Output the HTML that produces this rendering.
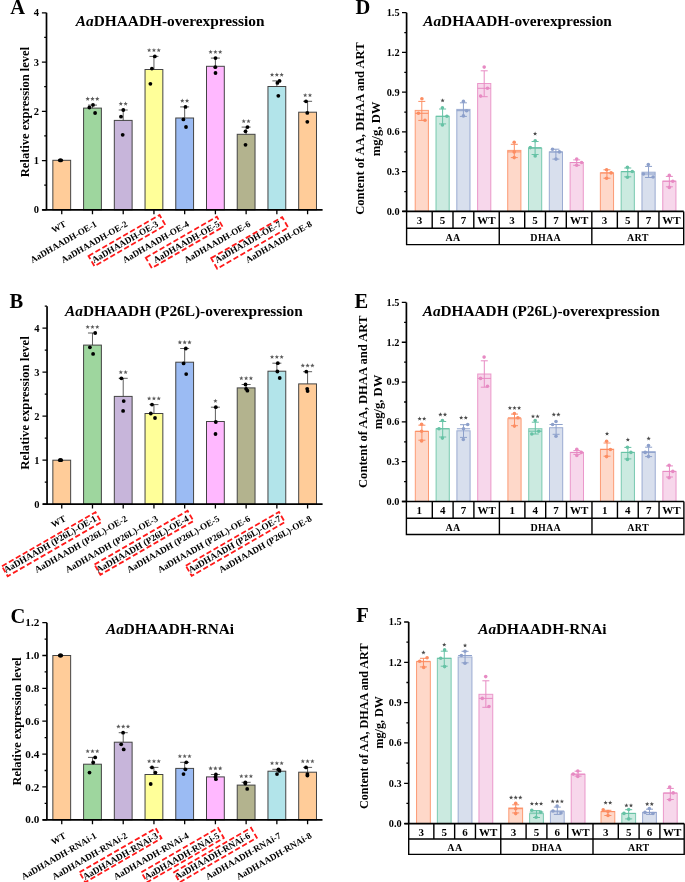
<!DOCTYPE html>
<html><head><meta charset="utf-8"><style>
html,body{margin:0;padding:0;background:#fff;}
svg{display:block;will-change:transform;}
svg text{font-family:"Liberation Serif", serif;}
</style></head><body>
<svg width="685" height="882" viewBox="0 0 685 882">
<rect width="685" height="882" fill="#fff"/>
<rect x="52.85" y="160.30" width="17.8" height="49.50" fill="#FFCC99" stroke="#444" stroke-width="1"/>
<rect x="83.58" y="108.10" width="17.8" height="101.70" fill="#9ED69E" stroke="#444" stroke-width="1"/>
<rect x="114.31" y="120.40" width="17.8" height="89.40" fill="#C7B5DA" stroke="#444" stroke-width="1"/>
<rect x="145.04" y="69.50" width="17.8" height="140.30" fill="#FFFF99" stroke="#444" stroke-width="1"/>
<rect x="175.77" y="118.00" width="17.8" height="91.80" fill="#9BBBF3" stroke="#444" stroke-width="1"/>
<rect x="206.50" y="66.30" width="17.8" height="143.50" fill="#FFB8FF" stroke="#444" stroke-width="1"/>
<rect x="237.23" y="134.30" width="17.8" height="75.50" fill="#B3B38E" stroke="#444" stroke-width="1"/>
<rect x="267.96" y="86.50" width="17.8" height="123.30" fill="#B2E4EA" stroke="#444" stroke-width="1"/>
<rect x="298.69" y="112.20" width="17.8" height="97.60" fill="#FFCC99" stroke="#444" stroke-width="1"/>
<circle cx="59.8" cy="160.3" r="1.9" fill="#000"/>
<circle cx="60.5" cy="160.3" r="1.9" fill="#000"/>
<circle cx="61.2" cy="160.3" r="1.9" fill="#000"/>
<path d="M92.48,108.10V105.10M87.98,105.10H96.98" stroke="#333" stroke-width="0.8" fill="none"/>
<circle cx="89.4" cy="107.5" r="1.9" fill="#000"/>
<circle cx="93" cy="104.9" r="1.9" fill="#000"/>
<circle cx="95.1" cy="113" r="1.9" fill="#000"/>
<path d="M87.68,96.60 L88.27,98.09 L89.87,98.19 L88.63,99.21 L89.03,100.76 L87.68,99.90 L86.33,100.76 L86.73,99.21 L85.49,98.19 L87.09,98.09ZM92.48,96.60 L93.07,98.09 L94.67,98.19 L93.43,99.21 L93.83,100.76 L92.48,99.90 L91.13,100.76 L91.53,99.21 L90.29,98.19 L91.89,98.09ZM97.28,96.60 L97.87,98.09 L99.47,98.19 L98.23,99.21 L98.63,100.76 L97.28,99.90 L95.93,100.76 L96.33,99.21 L95.09,98.19 L96.69,98.09Z" fill="#5a5a5a"/>
<path d="M123.21,120.40V110.00M118.71,110.00H127.71" stroke="#333" stroke-width="0.8" fill="none"/>
<circle cx="123.3" cy="110" r="1.9" fill="#000"/>
<circle cx="121" cy="116.7" r="1.9" fill="#000"/>
<circle cx="122.7" cy="134.8" r="1.9" fill="#000"/>
<path d="M120.81,101.50 L121.40,102.99 L123.00,103.09 L121.76,104.11 L122.16,105.66 L120.81,104.80 L119.46,105.66 L119.86,104.11 L118.62,103.09 L120.22,102.99ZM125.61,101.50 L126.20,102.99 L127.80,103.09 L126.56,104.11 L126.96,105.66 L125.61,104.80 L124.26,105.66 L124.66,104.11 L123.42,103.09 L125.02,102.99Z" fill="#5a5a5a"/>
<path d="M153.94,69.50V56.40M149.44,56.40H158.44" stroke="#333" stroke-width="0.8" fill="none"/>
<circle cx="154.8" cy="56.4" r="1.9" fill="#000"/>
<circle cx="151.9" cy="68.6" r="1.9" fill="#000"/>
<circle cx="150.4" cy="83.8" r="1.9" fill="#000"/>
<path d="M149.14,47.90 L149.73,49.39 L151.33,49.49 L150.09,50.51 L150.49,52.06 L149.14,51.20 L147.79,52.06 L148.19,50.51 L146.95,49.49 L148.55,49.39ZM153.94,47.90 L154.53,49.39 L156.13,49.49 L154.89,50.51 L155.29,52.06 L153.94,51.20 L152.59,52.06 L152.99,50.51 L151.75,49.49 L153.35,49.39ZM158.74,47.90 L159.33,49.39 L160.93,49.49 L159.69,50.51 L160.09,52.06 L158.74,51.20 L157.39,52.06 L157.79,50.51 L156.55,49.49 L158.15,49.39Z" fill="#5a5a5a"/>
<path d="M184.67,118.00V106.90M180.17,106.90H189.17" stroke="#333" stroke-width="0.8" fill="none"/>
<circle cx="185.5" cy="106.9" r="1.9" fill="#000"/>
<circle cx="183.4" cy="119.4" r="1.9" fill="#000"/>
<circle cx="186" cy="127" r="1.9" fill="#000"/>
<path d="M182.27,98.50 L182.86,99.99 L184.46,100.09 L183.22,101.11 L183.62,102.66 L182.27,101.80 L180.92,102.66 L181.32,101.11 L180.08,100.09 L181.68,99.99ZM187.07,98.50 L187.66,99.99 L189.26,100.09 L188.02,101.11 L188.42,102.66 L187.07,101.80 L185.72,102.66 L186.12,101.11 L184.88,100.09 L186.48,99.99Z" fill="#5a5a5a"/>
<path d="M215.40,66.30V58.10M210.90,58.10H219.90" stroke="#333" stroke-width="0.8" fill="none"/>
<circle cx="215.5" cy="58.1" r="1.9" fill="#000"/>
<circle cx="215.3" cy="67.2" r="1.9" fill="#000"/>
<circle cx="215.5" cy="73" r="1.9" fill="#000"/>
<path d="M210.60,49.70 L211.19,51.19 L212.79,51.29 L211.55,52.31 L211.95,53.86 L210.60,53.00 L209.25,53.86 L209.65,52.31 L208.41,51.29 L210.01,51.19ZM215.40,49.70 L215.99,51.19 L217.59,51.29 L216.35,52.31 L216.75,53.86 L215.40,53.00 L214.05,53.86 L214.45,52.31 L213.21,51.29 L214.81,51.19ZM220.20,49.70 L220.79,51.19 L222.39,51.29 L221.15,52.31 L221.55,53.86 L220.20,53.00 L218.85,53.86 L219.25,52.31 L218.01,51.29 L219.61,51.19Z" fill="#5a5a5a"/>
<path d="M246.13,134.30V127.10M241.63,127.10H250.63" stroke="#333" stroke-width="0.8" fill="none"/>
<circle cx="247.5" cy="127.1" r="1.9" fill="#000"/>
<circle cx="245.5" cy="131.3" r="1.9" fill="#000"/>
<circle cx="245.5" cy="144.8" r="1.9" fill="#000"/>
<path d="M243.73,118.90 L244.32,120.39 L245.92,120.49 L244.68,121.51 L245.08,123.06 L243.73,122.20 L242.38,123.06 L242.78,121.51 L241.54,120.49 L243.14,120.39ZM248.53,118.90 L249.12,120.39 L250.72,120.49 L249.48,121.51 L249.88,123.06 L248.53,122.20 L247.18,123.06 L247.58,121.51 L246.34,120.49 L247.94,120.39Z" fill="#5a5a5a"/>
<path d="M276.86,86.50V80.90M272.36,80.90H281.36" stroke="#333" stroke-width="0.8" fill="none"/>
<circle cx="279.5" cy="80.9" r="1.9" fill="#000"/>
<circle cx="277.4" cy="82.9" r="1.9" fill="#000"/>
<circle cx="278.3" cy="95.8" r="1.9" fill="#000"/>
<path d="M272.06,72.50 L272.65,73.99 L274.25,74.09 L273.01,75.11 L273.41,76.66 L272.06,75.80 L270.71,76.66 L271.11,75.11 L269.87,74.09 L271.47,73.99ZM276.86,72.50 L277.45,73.99 L279.05,74.09 L277.81,75.11 L278.21,76.66 L276.86,75.80 L275.51,76.66 L275.91,75.11 L274.67,74.09 L276.27,73.99ZM281.66,72.50 L282.25,73.99 L283.85,74.09 L282.61,75.11 L283.01,76.66 L281.66,75.80 L280.31,76.66 L280.71,75.11 L279.47,74.09 L281.07,73.99Z" fill="#5a5a5a"/>
<path d="M307.59,112.20V101.30M303.09,101.30H312.09" stroke="#333" stroke-width="0.8" fill="none"/>
<circle cx="306" cy="101.3" r="1.9" fill="#000"/>
<circle cx="307.3" cy="112.9" r="1.9" fill="#000"/>
<circle cx="307.3" cy="121.8" r="1.9" fill="#000"/>
<path d="M305.19,92.90 L305.78,94.39 L307.38,94.49 L306.14,95.51 L306.54,97.06 L305.19,96.20 L303.84,97.06 L304.24,95.51 L303.00,94.49 L304.60,94.39ZM309.99,92.90 L310.58,94.39 L312.18,94.49 L310.94,95.51 L311.34,97.06 L309.99,96.20 L308.64,97.06 L309.04,95.51 L307.80,94.49 L309.40,94.39Z" fill="#5a5a5a"/>
<path d="M46.5,12.800000000000011V209.8M42.2,209.8H322.6" stroke="#000" stroke-width="1.7" fill="none"/>
<path d="M41.9,209.80H46.5M41.9,160.55H46.5M41.9,111.30H46.5M41.9,62.05H46.5M41.9,12.80H46.5M44.2,185.18H46.5M44.2,135.93H46.5M44.2,86.68H46.5M44.2,37.43H46.5M61.75,209.8V214.20000000000002M92.48,209.8V214.20000000000002M123.21,209.8V214.20000000000002M153.94,209.8V214.20000000000002M184.67,209.8V214.20000000000002M215.40,209.8V214.20000000000002M246.13,209.8V214.20000000000002M276.86,209.8V214.20000000000002M307.59,209.8V214.20000000000002" stroke="#000" stroke-width="1.3" fill="none"/>
<text x="38.9" y="213.40" font-size="10.5" text-anchor="end" font-weight="bold" font-style="normal" fill="#000" >0</text>
<text x="38.9" y="164.15" font-size="10.5" text-anchor="end" font-weight="bold" font-style="normal" fill="#000" >1</text>
<text x="38.9" y="114.90" font-size="10.5" text-anchor="end" font-weight="bold" font-style="normal" fill="#000" >2</text>
<text x="38.9" y="65.65" font-size="10.5" text-anchor="end" font-weight="bold" font-style="normal" fill="#000" >3</text>
<text x="38.9" y="16.40" font-size="10.5" text-anchor="end" font-weight="bold" font-style="normal" fill="#000" >4</text>
<text transform="translate(28.9,112) rotate(-90)" font-size="12.5" text-anchor="middle" font-weight="bold">Relative expression level</text>
<text x="75.8" y="26.2" font-size="15.35" font-weight="bold"><tspan font-style="italic">Aa</tspan>DHAADH-overexpression</text>
<text x="10.3" y="13.9" font-size="20.5" text-anchor="start" font-weight="bold" font-style="normal" fill="#000" >A</text>
<text transform="translate(66.75,225.70) rotate(-30)" font-size="9.05" text-anchor="end" font-weight="bold">WT</text>
<text transform="translate(97.48,225.70) rotate(-30)" font-size="9.05" text-anchor="end" font-weight="bold">AaDHAADH-OE-1</text>
<text transform="translate(128.21,225.70) rotate(-30)" font-size="9.05" text-anchor="end" font-weight="bold">AaDHAADH-OE-2</text>
<text transform="translate(158.94,225.70) rotate(-30)" font-size="9.05" text-anchor="end" font-weight="bold">AaDHAADH-OE-3</text>
<text transform="translate(189.67,225.70) rotate(-30)" font-size="9.05" text-anchor="end" font-weight="bold">AaDHAADH-OE-4</text>
<text transform="translate(220.40,225.70) rotate(-30)" font-size="9.05" text-anchor="end" font-weight="bold">AaDHAADH-OE-5</text>
<text transform="translate(251.13,225.70) rotate(-30)" font-size="9.05" text-anchor="end" font-weight="bold">AaDHAADH-OE-6</text>
<text transform="translate(281.86,225.70) rotate(-30)" font-size="9.05" text-anchor="end" font-weight="bold">AaDHAADH-OE-7</text>
<text transform="translate(312.59,225.70) rotate(-30)" font-size="9.05" text-anchor="end" font-weight="bold">AaDHAADH-OE-8</text>
<rect transform="translate(127.00,240.60) rotate(-30)" x="-41.00" y="-5.90" width="82.00" height="11.80" fill="none" stroke="#FF1A1A" stroke-width="1.8" stroke-dasharray="5.4,2.6"/>
<rect transform="translate(184.30,242.40) rotate(-30)" x="-41.00" y="-6.00" width="82.00" height="12.00" fill="none" stroke="#FF1A1A" stroke-width="1.8" stroke-dasharray="5.4,2.6"/>
<rect transform="translate(249.70,242.90) rotate(-30)" x="-41.00" y="-6.10" width="82.00" height="12.20" fill="none" stroke="#FF1A1A" stroke-width="1.8" stroke-dasharray="5.4,2.6"/>
<rect x="52.85" y="460.20" width="17.8" height="44.00" fill="#FFCC99" stroke="#444" stroke-width="1"/>
<rect x="83.58" y="345.10" width="17.8" height="159.10" fill="#9ED69E" stroke="#444" stroke-width="1"/>
<rect x="114.31" y="396.40" width="17.8" height="107.80" fill="#C7B5DA" stroke="#444" stroke-width="1"/>
<rect x="145.04" y="413.50" width="17.8" height="90.70" fill="#FFFF99" stroke="#444" stroke-width="1"/>
<rect x="175.77" y="362.20" width="17.8" height="142.00" fill="#9BBBF3" stroke="#444" stroke-width="1"/>
<rect x="206.50" y="421.50" width="17.8" height="82.70" fill="#FFB8FF" stroke="#444" stroke-width="1"/>
<rect x="237.23" y="387.90" width="17.8" height="116.30" fill="#B3B38E" stroke="#444" stroke-width="1"/>
<rect x="267.96" y="371.20" width="17.8" height="133.00" fill="#B2E4EA" stroke="#444" stroke-width="1"/>
<rect x="298.69" y="383.90" width="17.8" height="120.30" fill="#FFCC99" stroke="#444" stroke-width="1"/>
<circle cx="59.8" cy="460.2" r="1.9" fill="#000"/>
<circle cx="60.5" cy="460.2" r="1.9" fill="#000"/>
<circle cx="61.2" cy="460.2" r="1.9" fill="#000"/>
<path d="M92.48,345.10V333.00M87.98,333.00H96.98" stroke="#333" stroke-width="0.8" fill="none"/>
<circle cx="95.2" cy="333" r="1.9" fill="#000"/>
<circle cx="89.9" cy="347.3" r="1.9" fill="#000"/>
<circle cx="93.1" cy="353.9" r="1.9" fill="#000"/>
<path d="M87.68,324.70 L88.27,326.19 L89.87,326.29 L88.63,327.31 L89.03,328.86 L87.68,328.00 L86.33,328.86 L86.73,327.31 L85.49,326.29 L87.09,326.19ZM92.48,324.70 L93.07,326.19 L94.67,326.29 L93.43,327.31 L93.83,328.86 L92.48,328.00 L91.13,328.86 L91.53,327.31 L90.29,326.29 L91.89,326.19ZM97.28,324.70 L97.87,326.19 L99.47,326.29 L98.23,327.31 L98.63,328.86 L97.28,328.00 L95.93,328.86 L96.33,327.31 L95.09,326.29 L96.69,326.19Z" fill="#5a5a5a"/>
<path d="M123.21,396.40V378.30M118.71,378.30H127.71" stroke="#333" stroke-width="0.8" fill="none"/>
<circle cx="121.4" cy="378.3" r="1.9" fill="#000"/>
<circle cx="123.7" cy="401.1" r="1.9" fill="#000"/>
<circle cx="123.1" cy="410.9" r="1.9" fill="#000"/>
<path d="M120.81,369.90 L121.40,371.39 L123.00,371.49 L121.76,372.51 L122.16,374.06 L120.81,373.20 L119.46,374.06 L119.86,372.51 L118.62,371.49 L120.22,371.39ZM125.61,369.90 L126.20,371.39 L127.80,371.49 L126.56,372.51 L126.96,374.06 L125.61,373.20 L124.26,374.06 L124.66,372.51 L123.42,371.49 L125.02,371.39Z" fill="#5a5a5a"/>
<path d="M153.94,413.50V404.60M149.44,404.60H158.44" stroke="#333" stroke-width="0.8" fill="none"/>
<circle cx="152" cy="404.6" r="1.9" fill="#000"/>
<circle cx="150.8" cy="413.5" r="1.9" fill="#000"/>
<circle cx="155" cy="418" r="1.9" fill="#000"/>
<path d="M149.14,396.20 L149.73,397.69 L151.33,397.79 L150.09,398.81 L150.49,400.36 L149.14,399.50 L147.79,400.36 L148.19,398.81 L146.95,397.79 L148.55,397.69ZM153.94,396.20 L154.53,397.69 L156.13,397.79 L154.89,398.81 L155.29,400.36 L153.94,399.50 L152.59,400.36 L152.99,398.81 L151.75,397.79 L153.35,397.69ZM158.74,396.20 L159.33,397.69 L160.93,397.79 L159.69,398.81 L160.09,400.36 L158.74,399.50 L157.39,400.36 L157.79,398.81 L156.55,397.79 L158.15,397.69Z" fill="#5a5a5a"/>
<path d="M184.67,362.20V348.50M180.17,348.50H189.17" stroke="#333" stroke-width="0.8" fill="none"/>
<circle cx="185.8" cy="348.5" r="1.9" fill="#000"/>
<circle cx="183.6" cy="363.4" r="1.9" fill="#000"/>
<circle cx="186.2" cy="374.1" r="1.9" fill="#000"/>
<path d="M179.87,340.10 L180.46,341.59 L182.06,341.69 L180.82,342.71 L181.22,344.26 L179.87,343.40 L178.52,344.26 L178.92,342.71 L177.68,341.69 L179.28,341.59ZM184.67,340.10 L185.26,341.59 L186.86,341.69 L185.62,342.71 L186.02,344.26 L184.67,343.40 L183.32,344.26 L183.72,342.71 L182.48,341.69 L184.08,341.59ZM189.47,340.10 L190.06,341.59 L191.66,341.69 L190.42,342.71 L190.82,344.26 L189.47,343.40 L188.12,344.26 L188.52,342.71 L187.28,341.69 L188.88,341.59Z" fill="#5a5a5a"/>
<path d="M215.40,421.50V407.20M210.90,407.20H219.90" stroke="#333" stroke-width="0.8" fill="none"/>
<circle cx="215.8" cy="407.2" r="1.9" fill="#000"/>
<circle cx="215.8" cy="422" r="1.9" fill="#000"/>
<circle cx="215.5" cy="434" r="1.9" fill="#000"/>
<path d="M215.40,398.70 L215.99,400.19 L217.59,400.29 L216.35,401.31 L216.75,402.86 L215.40,402.00 L214.05,402.86 L214.45,401.31 L213.21,400.29 L214.81,400.19Z" fill="#5a5a5a"/>
<path d="M246.13,387.90V384.50M241.63,384.50H250.63" stroke="#333" stroke-width="0.8" fill="none"/>
<circle cx="245.5" cy="384.5" r="1.9" fill="#000"/>
<circle cx="246.1" cy="388.8" r="1.9" fill="#000"/>
<circle cx="247.4" cy="390.7" r="1.9" fill="#000"/>
<path d="M241.33,376.00 L241.92,377.49 L243.52,377.59 L242.28,378.61 L242.68,380.16 L241.33,379.30 L239.98,380.16 L240.38,378.61 L239.14,377.59 L240.74,377.49ZM246.13,376.00 L246.72,377.49 L248.32,377.59 L247.08,378.61 L247.48,380.16 L246.13,379.30 L244.78,380.16 L245.18,378.61 L243.94,377.59 L245.54,377.49ZM250.93,376.00 L251.52,377.49 L253.12,377.59 L251.88,378.61 L252.28,380.16 L250.93,379.30 L249.58,380.16 L249.98,378.61 L248.74,377.59 L250.34,377.49Z" fill="#5a5a5a"/>
<path d="M276.86,371.20V363.20M272.36,363.20H281.36" stroke="#333" stroke-width="0.8" fill="none"/>
<circle cx="277.8" cy="363.2" r="1.9" fill="#000"/>
<circle cx="277.4" cy="371.5" r="1.9" fill="#000"/>
<circle cx="279.7" cy="378" r="1.9" fill="#000"/>
<path d="M272.06,354.70 L272.65,356.19 L274.25,356.29 L273.01,357.31 L273.41,358.86 L272.06,358.00 L270.71,358.86 L271.11,357.31 L269.87,356.29 L271.47,356.19ZM276.86,354.70 L277.45,356.19 L279.05,356.29 L277.81,357.31 L278.21,358.86 L276.86,358.00 L275.51,358.86 L275.91,357.31 L274.67,356.29 L276.27,356.19ZM281.66,354.70 L282.25,356.19 L283.85,356.29 L282.61,357.31 L283.01,358.86 L281.66,358.00 L280.31,358.86 L280.71,357.31 L279.47,356.29 L281.07,356.19Z" fill="#5a5a5a"/>
<path d="M307.59,383.90V371.70M303.09,371.70H312.09" stroke="#333" stroke-width="0.8" fill="none"/>
<circle cx="306.3" cy="371.7" r="1.9" fill="#000"/>
<circle cx="307.2" cy="388.8" r="1.9" fill="#000"/>
<circle cx="307.6" cy="391.1" r="1.9" fill="#000"/>
<path d="M302.79,363.30 L303.38,364.79 L304.98,364.89 L303.74,365.91 L304.14,367.46 L302.79,366.60 L301.44,367.46 L301.84,365.91 L300.60,364.89 L302.20,364.79ZM307.59,363.30 L308.18,364.79 L309.78,364.89 L308.54,365.91 L308.94,367.46 L307.59,366.60 L306.24,367.46 L306.64,365.91 L305.40,364.89 L307.00,364.79ZM312.39,363.30 L312.98,364.79 L314.58,364.89 L313.34,365.91 L313.74,367.46 L312.39,366.60 L311.04,367.46 L311.44,365.91 L310.20,364.89 L311.80,364.79Z" fill="#5a5a5a"/>
<path d="M47.05,306.2V504.2M42.75,504.2H322.6" stroke="#000" stroke-width="1.7" fill="none"/>
<path d="M42.449999999999996,504.20H47.05M42.449999999999996,460.20H47.05M42.449999999999996,416.20H47.05M42.449999999999996,372.20H47.05M42.449999999999996,328.20H47.05M44.75,482.20H47.05M44.75,438.20H47.05M44.75,394.20H47.05M44.75,350.20H47.05M44.75,306.20H47.05M61.75,504.2V508.59999999999997M92.48,504.2V508.59999999999997M123.21,504.2V508.59999999999997M153.94,504.2V508.59999999999997M184.67,504.2V508.59999999999997M215.40,504.2V508.59999999999997M246.13,504.2V508.59999999999997M276.86,504.2V508.59999999999997M307.59,504.2V508.59999999999997" stroke="#000" stroke-width="1.3" fill="none"/>
<text x="39.449999999999996" y="507.80" font-size="10.5" text-anchor="end" font-weight="bold" font-style="normal" fill="#000" >0</text>
<text x="39.449999999999996" y="463.80" font-size="10.5" text-anchor="end" font-weight="bold" font-style="normal" fill="#000" >1</text>
<text x="39.449999999999996" y="419.80" font-size="10.5" text-anchor="end" font-weight="bold" font-style="normal" fill="#000" >2</text>
<text x="39.449999999999996" y="375.80" font-size="10.5" text-anchor="end" font-weight="bold" font-style="normal" fill="#000" >3</text>
<text x="39.449999999999996" y="331.80" font-size="10.5" text-anchor="end" font-weight="bold" font-style="normal" fill="#000" >4</text>
<text transform="translate(28.9,403) rotate(-90)" font-size="12.8" text-anchor="middle" font-weight="bold">Relative expression level</text>
<text x="65.0" y="315.6" font-size="15.35" font-weight="bold"><tspan font-style="italic">Aa</tspan>DHAADH (P26L)-overexpression</text>
<text x="9.6" y="307.8" font-size="20.5" text-anchor="start" font-weight="bold" font-style="normal" fill="#000" >B</text>
<text transform="translate(66.55,520.40) rotate(-30)" font-size="9.2" text-anchor="end" font-weight="bold">WT</text>
<text transform="translate(97.28,520.40) rotate(-30)" font-size="9.2" text-anchor="end" font-weight="bold">AaDHAADH (P26L)-OE-1</text>
<text transform="translate(128.01,520.40) rotate(-30)" font-size="9.2" text-anchor="end" font-weight="bold">AaDHAADH (P26L)-OE-2</text>
<text transform="translate(158.74,520.40) rotate(-30)" font-size="9.2" text-anchor="end" font-weight="bold">AaDHAADH (P26L)-OE-3</text>
<text transform="translate(189.47,520.40) rotate(-30)" font-size="9.2" text-anchor="end" font-weight="bold">AaDHAADH (P26L)-OE-4</text>
<text transform="translate(220.20,520.40) rotate(-30)" font-size="9.2" text-anchor="end" font-weight="bold">AaDHAADH (P26L)-OE-5</text>
<text transform="translate(250.93,520.40) rotate(-30)" font-size="9.2" text-anchor="end" font-weight="bold">AaDHAADH (P26L)-OE-6</text>
<text transform="translate(281.66,520.40) rotate(-30)" font-size="9.2" text-anchor="end" font-weight="bold">AaDHAADH (P26L)-OE-7</text>
<text transform="translate(312.39,520.40) rotate(-30)" font-size="9.2" text-anchor="end" font-weight="bold">AaDHAADH (P26L)-OE-8</text>
<rect transform="translate(51.60,544.20) rotate(-30)" x="-54.00" y="-5.75" width="108.00" height="11.50" fill="none" stroke="#FF1A1A" stroke-width="1.8" stroke-dasharray="5.4,2.6"/>
<rect transform="translate(144.00,542.80) rotate(-30)" x="-53.75" y="-5.90" width="107.50" height="11.80" fill="none" stroke="#FF1A1A" stroke-width="1.8" stroke-dasharray="5.4,2.6"/>
<rect transform="translate(235.30,543.90) rotate(-30)" x="-53.75" y="-5.90" width="107.50" height="11.80" fill="none" stroke="#FF1A1A" stroke-width="1.8" stroke-dasharray="5.4,2.6"/>
<rect x="52.85" y="655.50" width="17.8" height="164.30" fill="#FFCC99" stroke="#444" stroke-width="1"/>
<rect x="83.58" y="764.20" width="17.8" height="55.60" fill="#9ED69E" stroke="#444" stroke-width="1"/>
<rect x="114.31" y="742.20" width="17.8" height="77.60" fill="#C7B5DA" stroke="#444" stroke-width="1"/>
<rect x="145.04" y="774.50" width="17.8" height="45.30" fill="#FFFF99" stroke="#444" stroke-width="1"/>
<rect x="175.77" y="768.40" width="17.8" height="51.40" fill="#9BBBF3" stroke="#444" stroke-width="1"/>
<rect x="206.50" y="776.90" width="17.8" height="42.90" fill="#FFB8FF" stroke="#444" stroke-width="1"/>
<rect x="237.23" y="785.10" width="17.8" height="34.70" fill="#B3B38E" stroke="#444" stroke-width="1"/>
<rect x="267.96" y="771.20" width="17.8" height="48.60" fill="#B2E4EA" stroke="#444" stroke-width="1"/>
<rect x="298.69" y="772.20" width="17.8" height="47.60" fill="#FFCC99" stroke="#444" stroke-width="1"/>
<circle cx="59.8" cy="655.5" r="1.9" fill="#000"/>
<circle cx="60.5" cy="655.5" r="1.9" fill="#000"/>
<circle cx="61.2" cy="655.5" r="1.9" fill="#000"/>
<path d="M92.48,764.20V757.40M87.98,757.40H96.98" stroke="#333" stroke-width="0.8" fill="none"/>
<circle cx="95.2" cy="757.4" r="1.9" fill="#000"/>
<circle cx="93.2" cy="762.5" r="1.9" fill="#000"/>
<circle cx="89.5" cy="772.6" r="1.9" fill="#000"/>
<path d="M87.68,748.90 L88.27,750.39 L89.87,750.49 L88.63,751.51 L89.03,753.06 L87.68,752.20 L86.33,753.06 L86.73,751.51 L85.49,750.49 L87.09,750.39ZM92.48,748.90 L93.07,750.39 L94.67,750.49 L93.43,751.51 L93.83,753.06 L92.48,752.20 L91.13,753.06 L91.53,751.51 L90.29,750.49 L91.89,750.39ZM97.28,748.90 L97.87,750.39 L99.47,750.49 L98.23,751.51 L98.63,753.06 L97.28,752.20 L95.93,753.06 L96.33,751.51 L95.09,750.49 L96.69,750.39Z" fill="#5a5a5a"/>
<path d="M123.21,742.20V732.70M118.71,732.70H127.71" stroke="#333" stroke-width="0.8" fill="none"/>
<circle cx="123.1" cy="732.7" r="1.9" fill="#000"/>
<circle cx="121.2" cy="744.3" r="1.9" fill="#000"/>
<circle cx="123.7" cy="749.4" r="1.9" fill="#000"/>
<path d="M118.41,724.30 L119.00,725.79 L120.60,725.89 L119.36,726.91 L119.76,728.46 L118.41,727.60 L117.06,728.46 L117.46,726.91 L116.22,725.89 L117.82,725.79ZM123.21,724.30 L123.80,725.79 L125.40,725.89 L124.16,726.91 L124.56,728.46 L123.21,727.60 L121.86,728.46 L122.26,726.91 L121.02,725.89 L122.62,725.79ZM128.01,724.30 L128.60,725.79 L130.20,725.89 L128.96,726.91 L129.36,728.46 L128.01,727.60 L126.66,728.46 L127.06,726.91 L125.82,725.89 L127.42,725.79Z" fill="#5a5a5a"/>
<path d="M153.94,774.50V767.40M149.44,767.40H158.44" stroke="#333" stroke-width="0.8" fill="none"/>
<circle cx="152" cy="767.4" r="1.9" fill="#000"/>
<circle cx="155.4" cy="772.6" r="1.9" fill="#000"/>
<circle cx="150.7" cy="784" r="1.9" fill="#000"/>
<path d="M149.14,758.90 L149.73,760.39 L151.33,760.49 L150.09,761.51 L150.49,763.06 L149.14,762.20 L147.79,763.06 L148.19,761.51 L146.95,760.49 L148.55,760.39ZM153.94,758.90 L154.53,760.39 L156.13,760.49 L154.89,761.51 L155.29,763.06 L153.94,762.20 L152.59,763.06 L152.99,761.51 L151.75,760.49 L153.35,760.39ZM158.74,758.90 L159.33,760.39 L160.93,760.49 L159.69,761.51 L160.09,763.06 L158.74,762.20 L157.39,763.06 L157.79,761.51 L156.55,760.49 L158.15,760.39Z" fill="#5a5a5a"/>
<path d="M184.67,768.40V762.30M180.17,762.30H189.17" stroke="#333" stroke-width="0.8" fill="none"/>
<circle cx="186.3" cy="762.3" r="1.9" fill="#000"/>
<circle cx="185.4" cy="769.3" r="1.9" fill="#000"/>
<circle cx="183.5" cy="774.1" r="1.9" fill="#000"/>
<path d="M179.87,753.90 L180.46,755.39 L182.06,755.49 L180.82,756.51 L181.22,758.06 L179.87,757.20 L178.52,758.06 L178.92,756.51 L177.68,755.49 L179.28,755.39ZM184.67,753.90 L185.26,755.39 L186.86,755.49 L185.62,756.51 L186.02,758.06 L184.67,757.20 L183.32,758.06 L183.72,756.51 L182.48,755.49 L184.08,755.39ZM189.47,753.90 L190.06,755.39 L191.66,755.49 L190.42,756.51 L190.82,758.06 L189.47,757.20 L188.12,758.06 L188.52,756.51 L187.28,755.49 L188.88,755.39Z" fill="#5a5a5a"/>
<path d="M215.40,776.90V774.50M210.90,774.50H219.90" stroke="#333" stroke-width="0.8" fill="none"/>
<circle cx="215.9" cy="774.5" r="1.9" fill="#000"/>
<circle cx="215.5" cy="776.9" r="1.9" fill="#000"/>
<circle cx="215.9" cy="779.2" r="1.9" fill="#000"/>
<path d="M210.60,766.10 L211.19,767.59 L212.79,767.69 L211.55,768.71 L211.95,770.26 L210.60,769.40 L209.25,770.26 L209.65,768.71 L208.41,767.69 L210.01,767.59ZM215.40,766.10 L215.99,767.59 L217.59,767.69 L216.35,768.71 L216.75,770.26 L215.40,769.40 L214.05,770.26 L214.45,768.71 L213.21,767.69 L214.81,767.59ZM220.20,766.10 L220.79,767.59 L222.39,767.69 L221.15,768.71 L221.55,770.26 L220.20,769.40 L218.85,770.26 L219.25,768.71 L218.01,767.69 L219.61,767.59Z" fill="#5a5a5a"/>
<path d="M246.13,785.10V782.30M241.63,782.30H250.63" stroke="#333" stroke-width="0.8" fill="none"/>
<circle cx="245.3" cy="782.3" r="1.9" fill="#000"/>
<circle cx="245.3" cy="783.6" r="1.9" fill="#000"/>
<circle cx="247.2" cy="788.9" r="1.9" fill="#000"/>
<path d="M241.33,773.90 L241.92,775.39 L243.52,775.49 L242.28,776.51 L242.68,778.06 L241.33,777.20 L239.98,778.06 L240.38,776.51 L239.14,775.49 L240.74,775.39ZM246.13,773.90 L246.72,775.39 L248.32,775.49 L247.08,776.51 L247.48,778.06 L246.13,777.20 L244.78,778.06 L245.18,776.51 L243.94,775.49 L245.54,775.39ZM250.93,773.90 L251.52,775.39 L253.12,775.49 L251.88,776.51 L252.28,778.06 L250.93,777.20 L249.58,778.06 L249.98,776.51 L248.74,775.49 L250.34,775.39Z" fill="#5a5a5a"/>
<path d="M276.86,771.20V769.30M272.36,769.30H281.36" stroke="#333" stroke-width="0.8" fill="none"/>
<circle cx="278.5" cy="769.3" r="1.9" fill="#000"/>
<circle cx="279.5" cy="770.9" r="1.9" fill="#000"/>
<circle cx="277" cy="774.1" r="1.9" fill="#000"/>
<path d="M272.06,760.90 L272.65,762.39 L274.25,762.49 L273.01,763.51 L273.41,765.06 L272.06,764.20 L270.71,765.06 L271.11,763.51 L269.87,762.49 L271.47,762.39ZM276.86,760.90 L277.45,762.39 L279.05,762.49 L277.81,763.51 L278.21,765.06 L276.86,764.20 L275.51,765.06 L275.91,763.51 L274.67,762.49 L276.27,762.39ZM281.66,760.90 L282.25,762.39 L283.85,762.49 L282.61,763.51 L283.01,765.06 L281.66,764.20 L280.31,765.06 L280.71,763.51 L279.47,762.49 L281.07,762.39Z" fill="#5a5a5a"/>
<path d="M307.59,772.20V767.40M303.09,767.40H312.09" stroke="#333" stroke-width="0.8" fill="none"/>
<circle cx="306" cy="767.4" r="1.9" fill="#000"/>
<circle cx="307.4" cy="774.1" r="1.9" fill="#000"/>
<circle cx="307.4" cy="775.6" r="1.9" fill="#000"/>
<path d="M302.79,759.00 L303.38,760.49 L304.98,760.59 L303.74,761.61 L304.14,763.16 L302.79,762.30 L301.44,763.16 L301.84,761.61 L300.60,760.59 L302.20,760.49ZM307.59,759.00 L308.18,760.49 L309.78,760.59 L308.54,761.61 L308.94,763.16 L307.59,762.30 L306.24,763.16 L306.64,761.61 L305.40,760.59 L307.00,760.49ZM312.39,759.00 L312.98,760.49 L314.58,760.59 L313.34,761.61 L313.74,763.16 L312.39,762.30 L311.04,763.16 L311.44,761.61 L310.20,760.59 L311.80,760.49Z" fill="#5a5a5a"/>
<path d="M46.9,622.64V819.8M42.6,819.8H322.5" stroke="#000" stroke-width="1.7" fill="none"/>
<path d="M42.3,819.80H46.9M42.3,786.94H46.9M42.3,754.08H46.9M42.3,721.22H46.9M42.3,688.36H46.9M42.3,655.50H46.9M42.3,622.64H46.9M44.6,803.37H46.9M44.6,770.51H46.9M44.6,737.65H46.9M44.6,704.79H46.9M44.6,671.93H46.9M44.6,639.07H46.9M61.75,819.8V824.1999999999999M92.48,819.8V824.1999999999999M123.21,819.8V824.1999999999999M153.94,819.8V824.1999999999999M184.67,819.8V824.1999999999999M215.40,819.8V824.1999999999999M246.13,819.8V824.1999999999999M276.86,819.8V824.1999999999999M307.59,819.8V824.1999999999999" stroke="#000" stroke-width="1.3" fill="none"/>
<text x="39.3" y="823.40" font-size="11.2" text-anchor="end" font-weight="bold" font-style="normal" fill="#000" >0.0</text>
<text x="39.3" y="790.54" font-size="11.2" text-anchor="end" font-weight="bold" font-style="normal" fill="#000" >0.2</text>
<text x="39.3" y="757.68" font-size="11.2" text-anchor="end" font-weight="bold" font-style="normal" fill="#000" >0.4</text>
<text x="39.3" y="724.82" font-size="11.2" text-anchor="end" font-weight="bold" font-style="normal" fill="#000" >0.6</text>
<text x="39.3" y="691.96" font-size="11.2" text-anchor="end" font-weight="bold" font-style="normal" fill="#000" >0.8</text>
<text x="39.3" y="659.10" font-size="11.2" text-anchor="end" font-weight="bold" font-style="normal" fill="#000" >1.0</text>
<text x="39.3" y="626.24" font-size="11.2" text-anchor="end" font-weight="bold" font-style="normal" fill="#000" >1.2</text>
<text transform="translate(20.5,721.3) rotate(-90)" font-size="12.3" text-anchor="middle" font-weight="bold">Relative expression level</text>
<text x="106.0" y="634.4" font-size="15.25" font-weight="bold"><tspan font-style="italic">Aa</tspan>DHAADH-RNAi</text>
<text x="10.4" y="622.5" font-size="20.5" text-anchor="start" font-weight="bold" font-style="normal" fill="#000" >C</text>
<text transform="translate(66.55,837.50) rotate(-30)" font-size="9.2" text-anchor="end" font-weight="bold">WT</text>
<text transform="translate(97.28,837.50) rotate(-30)" font-size="9.2" text-anchor="end" font-weight="bold">AaDHAADH-RNAi-1</text>
<text transform="translate(128.01,837.50) rotate(-30)" font-size="9.2" text-anchor="end" font-weight="bold">AaDHAADH-RNAi-2</text>
<text transform="translate(158.74,837.50) rotate(-30)" font-size="9.2" text-anchor="end" font-weight="bold">AaDHAADH-RNAi-3</text>
<text transform="translate(189.47,837.50) rotate(-30)" font-size="9.2" text-anchor="end" font-weight="bold">AaDHAADH-RNAi-4</text>
<text transform="translate(220.20,837.50) rotate(-30)" font-size="9.2" text-anchor="end" font-weight="bold">AaDHAADH-RNAi-5</text>
<text transform="translate(250.93,837.50) rotate(-30)" font-size="9.2" text-anchor="end" font-weight="bold">AaDHAADH-RNAi-6</text>
<text transform="translate(281.66,837.50) rotate(-30)" font-size="9.2" text-anchor="end" font-weight="bold">AaDHAADH-RNAi-7</text>
<text transform="translate(312.39,837.50) rotate(-30)" font-size="9.2" text-anchor="end" font-weight="bold">AaDHAADH-RNAi-8</text>
<rect transform="translate(120.50,855.30) rotate(-30)" x="-44.00" y="-5.75" width="88.00" height="11.50" fill="none" stroke="#FF1A1A" stroke-width="1.8" stroke-dasharray="5.4,2.6"/>
<rect transform="translate(182.60,855.10) rotate(-30)" x="-44.25" y="-5.75" width="88.50" height="11.50" fill="none" stroke="#FF1A1A" stroke-width="1.8" stroke-dasharray="5.4,2.6"/>
<rect transform="translate(215.40,855.00) rotate(-30)" x="-44.50" y="-5.75" width="89.00" height="11.50" fill="none" stroke="#FF1A1A" stroke-width="1.8" stroke-dasharray="5.4,2.6"/>
<rect x="415.20" y="110.40" width="13.2" height="101.00" fill="#FC8D62" fill-opacity="0.34" stroke="#FC8D62" stroke-opacity="0.85" stroke-width="1"/>
<path d="M415.20,113.30H428.40" stroke="#FC8D62" stroke-width="1"/>
<path d="M421.80,101.40V120.40M418.30,101.40H425.30M418.30,120.40H425.30" stroke="#FC8D62" stroke-width="1" fill="none"/>
<circle cx="421.9" cy="98.7" r="1.8" fill="#FC8D62"/>
<circle cx="418.4" cy="113.3" r="1.8" fill="#FC8D62"/>
<circle cx="425" cy="120.3" r="1.8" fill="#FC8D62"/>
<rect x="436.00" y="116.30" width="13.2" height="95.10" fill="#66C2A5" fill-opacity="0.34" stroke="#66C2A5" stroke-opacity="0.85" stroke-width="1"/>
<path d="M436.00,116.30H449.20" stroke="#66C2A5" stroke-width="1"/>
<path d="M442.60,109.00V123.90M439.10,109.00H446.10M439.10,123.90H446.10" stroke="#66C2A5" stroke-width="1" fill="none"/>
<circle cx="442.4" cy="107.8" r="1.8" fill="#66C2A5"/>
<circle cx="446.9" cy="116.3" r="1.8" fill="#66C2A5"/>
<circle cx="442.4" cy="125" r="1.8" fill="#66C2A5"/>
<path d="M442.60,98.25 L443.16,99.73 L444.74,99.80 L443.50,100.79 L443.92,102.32 L442.60,101.45 L441.28,102.32 L441.70,100.79 L440.46,99.80 L442.04,99.73Z" fill="#4a4a4a"/>
<rect x="456.80" y="109.40" width="13.2" height="102.00" fill="#8DA0CB" fill-opacity="0.34" stroke="#8DA0CB" stroke-opacity="0.85" stroke-width="1"/>
<path d="M456.80,110.70H470.00" stroke="#8DA0CB" stroke-width="1"/>
<path d="M463.40,102.80V116.40M459.90,102.80H466.90M459.90,116.40H466.90" stroke="#8DA0CB" stroke-width="1" fill="none"/>
<circle cx="463.4" cy="101.4" r="1.8" fill="#8DA0CB"/>
<circle cx="466.6" cy="110.7" r="1.8" fill="#8DA0CB"/>
<circle cx="463.4" cy="115.9" r="1.8" fill="#8DA0CB"/>
<rect x="477.60" y="83.50" width="13.2" height="127.90" fill="#E78AC3" fill-opacity="0.34" stroke="#E78AC3" stroke-opacity="0.85" stroke-width="1"/>
<path d="M477.60,88.30H490.80" stroke="#E78AC3" stroke-width="1"/>
<path d="M484.20,70.80V96.70M480.70,70.80H487.70M480.70,96.70H487.70" stroke="#E78AC3" stroke-width="1" fill="none"/>
<circle cx="484.2" cy="67.1" r="1.8" fill="#E78AC3"/>
<circle cx="487.5" cy="88.3" r="1.8" fill="#E78AC3"/>
<circle cx="480.6" cy="96.1" r="1.8" fill="#E78AC3"/>
<rect x="507.70" y="150.40" width="13.2" height="61.00" fill="#FC8D62" fill-opacity="0.34" stroke="#FC8D62" stroke-opacity="0.85" stroke-width="1"/>
<path d="M507.70,151.90H520.90" stroke="#FC8D62" stroke-width="1"/>
<path d="M514.30,144.30V157.60M510.80,144.30H517.80M510.80,157.60H517.80" stroke="#FC8D62" stroke-width="1" fill="none"/>
<circle cx="514.2" cy="142.3" r="1.8" fill="#FC8D62"/>
<circle cx="514.2" cy="151.9" r="1.8" fill="#FC8D62"/>
<circle cx="514.2" cy="157.6" r="1.8" fill="#FC8D62"/>
<rect x="528.50" y="148.40" width="13.2" height="63.00" fill="#66C2A5" fill-opacity="0.34" stroke="#66C2A5" stroke-opacity="0.85" stroke-width="1"/>
<path d="M528.50,147.60H541.70" stroke="#66C2A5" stroke-width="1"/>
<path d="M535.10,141.50V154.50M531.60,141.50H538.60M531.60,154.50H538.60" stroke="#66C2A5" stroke-width="1" fill="none"/>
<circle cx="535.2" cy="140.7" r="1.8" fill="#66C2A5"/>
<circle cx="530.3" cy="147.6" r="1.8" fill="#66C2A5"/>
<circle cx="535.2" cy="156" r="1.8" fill="#66C2A5"/>
<path d="M535.10,131.55 L535.66,133.03 L537.24,133.10 L536.00,134.09 L536.42,135.62 L535.10,134.75 L533.78,135.62 L534.20,134.09 L532.96,133.10 L534.54,133.03Z" fill="#4a4a4a"/>
<rect x="549.30" y="152.00" width="13.2" height="59.40" fill="#8DA0CB" fill-opacity="0.34" stroke="#8DA0CB" stroke-opacity="0.85" stroke-width="1"/>
<path d="M549.30,151.90H562.50" stroke="#8DA0CB" stroke-width="1"/>
<path d="M555.90,149.20V159.10M552.40,149.20H559.40M552.40,159.10H559.40" stroke="#8DA0CB" stroke-width="1" fill="none"/>
<circle cx="552.5" cy="149.2" r="1.8" fill="#8DA0CB"/>
<circle cx="559.4" cy="151.9" r="1.8" fill="#8DA0CB"/>
<circle cx="556" cy="159.1" r="1.8" fill="#8DA0CB"/>
<rect x="570.10" y="162.50" width="13.2" height="48.90" fill="#E78AC3" fill-opacity="0.34" stroke="#E78AC3" stroke-opacity="0.85" stroke-width="1"/>
<path d="M570.10,162.50H583.30" stroke="#E78AC3" stroke-width="1"/>
<path d="M576.70,159.90V165.30M573.20,159.90H580.20M573.20,165.30H580.20" stroke="#E78AC3" stroke-width="1" fill="none"/>
<circle cx="576.7" cy="159.1" r="1.8" fill="#E78AC3"/>
<circle cx="581.6" cy="162.5" r="1.8" fill="#E78AC3"/>
<circle cx="576.7" cy="165.3" r="1.8" fill="#E78AC3"/>
<rect x="600.35" y="172.90" width="13.2" height="38.50" fill="#FC8D62" fill-opacity="0.34" stroke="#FC8D62" stroke-opacity="0.85" stroke-width="1"/>
<path d="M600.35,172.90H613.55" stroke="#FC8D62" stroke-width="1"/>
<path d="M606.95,169.80V178.20M603.45,169.80H610.45M603.45,178.20H610.45" stroke="#FC8D62" stroke-width="1" fill="none"/>
<circle cx="606.6" cy="169.8" r="1.8" fill="#FC8D62"/>
<circle cx="611.1" cy="172.9" r="1.8" fill="#FC8D62"/>
<circle cx="606.6" cy="178.2" r="1.8" fill="#FC8D62"/>
<rect x="621.15" y="171.80" width="13.2" height="39.60" fill="#66C2A5" fill-opacity="0.34" stroke="#66C2A5" stroke-opacity="0.85" stroke-width="1"/>
<path d="M621.15,171.50H634.35" stroke="#66C2A5" stroke-width="1"/>
<path d="M627.75,168.00V176.80M624.25,168.00H631.25M624.25,176.80H631.25" stroke="#66C2A5" stroke-width="1" fill="none"/>
<circle cx="627.4" cy="167.3" r="1.8" fill="#66C2A5"/>
<circle cx="632.3" cy="171.5" r="1.8" fill="#66C2A5"/>
<circle cx="627.4" cy="177.3" r="1.8" fill="#66C2A5"/>
<rect x="641.95" y="172.20" width="13.2" height="39.20" fill="#8DA0CB" fill-opacity="0.34" stroke="#8DA0CB" stroke-opacity="0.85" stroke-width="1"/>
<path d="M641.95,174.00H655.15" stroke="#8DA0CB" stroke-width="1"/>
<path d="M648.55,166.40V177.50M645.05,166.40H652.05M645.05,177.50H652.05" stroke="#8DA0CB" stroke-width="1" fill="none"/>
<circle cx="648.3" cy="164.6" r="1.8" fill="#8DA0CB"/>
<circle cx="643.4" cy="174" r="1.8" fill="#8DA0CB"/>
<circle cx="653.1" cy="177" r="1.8" fill="#8DA0CB"/>
<rect x="662.75" y="181.20" width="13.2" height="30.20" fill="#E78AC3" fill-opacity="0.34" stroke="#E78AC3" stroke-opacity="0.85" stroke-width="1"/>
<path d="M662.75,181.20H675.95" stroke="#E78AC3" stroke-width="1"/>
<path d="M669.35,176.40V186.80M665.85,176.40H672.85M665.85,186.80H672.85" stroke="#E78AC3" stroke-width="1" fill="none"/>
<circle cx="669.3" cy="175.4" r="1.8" fill="#E78AC3"/>
<circle cx="672.8" cy="181.2" r="1.8" fill="#E78AC3"/>
<circle cx="669.3" cy="187.4" r="1.8" fill="#E78AC3"/>
<path d="M406.6,12.65V211.4M402.3,211.4H683.7" stroke="#000" stroke-width="1.7" fill="none"/>
<path d="M402.0,211.40H406.6M404.3,191.53H406.6M402.0,171.65H406.6M404.3,151.78H406.6M402.0,131.90H406.6M404.3,112.03H406.6M402.0,92.15H406.6M404.3,72.28H406.6M402.0,52.40H406.6M404.3,32.53H406.6M402.0,12.65H406.6" stroke="#000" stroke-width="1.3" fill="none"/>
<text x="399.6" y="214.80" font-size="10.3" text-anchor="end" font-weight="bold" font-style="normal" fill="#000" >0.0</text>
<text x="399.6" y="175.05" font-size="10.3" text-anchor="end" font-weight="bold" font-style="normal" fill="#000" >0.3</text>
<text x="399.6" y="135.30" font-size="10.3" text-anchor="end" font-weight="bold" font-style="normal" fill="#000" >0.6</text>
<text x="399.6" y="95.55" font-size="10.3" text-anchor="end" font-weight="bold" font-style="normal" fill="#000" >0.9</text>
<text x="399.6" y="55.80" font-size="10.3" text-anchor="end" font-weight="bold" font-style="normal" fill="#000" >1.2</text>
<text x="399.6" y="16.05" font-size="10.3" text-anchor="end" font-weight="bold" font-style="normal" fill="#000" >1.5</text>
<path d="M406.6,211.4V244.6H683.7V211.4M406.6,228.2H683.7M499.25,211.4V244.6M591.83,211.4V244.6M432.20,211.4V228.2M453.00,211.4V228.2M473.80,211.4V228.2M524.70,211.4V228.2M545.50,211.4V228.2M566.30,211.4V228.2M617.35,211.4V228.2M638.15,211.4V228.2M658.95,211.4V228.2" stroke="#000" stroke-width="1.4" fill="none"/>
<text x="419.40" y="223.80" font-size="11" text-anchor="middle" font-weight="bold" font-style="normal" fill="#000" >3</text>
<text x="442.60" y="223.80" font-size="11" text-anchor="middle" font-weight="bold" font-style="normal" fill="#000" >5</text>
<text x="463.40" y="223.80" font-size="11" text-anchor="middle" font-weight="bold" font-style="normal" fill="#000" >7</text>
<text x="486.52" y="223.80" font-size="11" text-anchor="middle" font-weight="bold" font-style="normal" fill="#000" >WT</text>
<text x="453.07" y="240.90" font-size="10" text-anchor="middle" font-weight="bold" font-style="normal" fill="#000" letter-spacing="0.3">AA</text>
<text x="511.98" y="223.80" font-size="11" text-anchor="middle" font-weight="bold" font-style="normal" fill="#000" >3</text>
<text x="535.10" y="223.80" font-size="11" text-anchor="middle" font-weight="bold" font-style="normal" fill="#000" >5</text>
<text x="555.90" y="223.80" font-size="11" text-anchor="middle" font-weight="bold" font-style="normal" fill="#000" >7</text>
<text x="579.06" y="223.80" font-size="11" text-anchor="middle" font-weight="bold" font-style="normal" fill="#000" >WT</text>
<text x="545.69" y="240.90" font-size="10" text-anchor="middle" font-weight="bold" font-style="normal" fill="#000" letter-spacing="0.3">DHAA</text>
<text x="604.59" y="223.80" font-size="11" text-anchor="middle" font-weight="bold" font-style="normal" fill="#000" >3</text>
<text x="627.75" y="223.80" font-size="11" text-anchor="middle" font-weight="bold" font-style="normal" fill="#000" >5</text>
<text x="648.55" y="223.80" font-size="11" text-anchor="middle" font-weight="bold" font-style="normal" fill="#000" >7</text>
<text x="671.33" y="223.80" font-size="11" text-anchor="middle" font-weight="bold" font-style="normal" fill="#000" >WT</text>
<text x="637.91" y="240.90" font-size="10" text-anchor="middle" font-weight="bold" font-style="normal" fill="#000" letter-spacing="0.3">ART</text>
<text transform="translate(363.7,128.6) rotate(-90)" font-size="12.6" text-anchor="middle" font-weight="bold">Content of AA, DHAA and ART</text>
<text transform="translate(379.6,128.9) rotate(-90)" font-size="12.6" text-anchor="middle" font-weight="bold">mg/g, DW</text>
<text x="423.2" y="26.2" font-size="15.35" font-weight="bold"><tspan font-style="italic">Aa</tspan>DHAADH-overexpression</text>
<text x="355.6" y="13.9" font-size="20.5" text-anchor="start" font-weight="bold" font-style="normal" fill="#000" >D</text>
<rect x="415.30" y="431.50" width="13.2" height="70.00" fill="#FC8D62" fill-opacity="0.34" stroke="#FC8D62" stroke-opacity="0.85" stroke-width="1"/>
<path d="M415.30,431.20H428.50" stroke="#FC8D62" stroke-width="1"/>
<path d="M421.90,425.20V440.20M418.40,425.20H425.40M418.40,440.20H425.40" stroke="#FC8D62" stroke-width="1" fill="none"/>
<circle cx="421.6" cy="424.3" r="1.8" fill="#FC8D62"/>
<circle cx="421.6" cy="431.2" r="1.8" fill="#FC8D62"/>
<circle cx="421.6" cy="440.9" r="1.8" fill="#FC8D62"/>
<path d="M419.60,416.45 L420.16,417.93 L421.74,418.00 L420.50,418.99 L420.92,420.52 L419.60,419.65 L418.28,420.52 L418.70,418.99 L417.46,418.00 L419.04,417.93ZM424.20,416.45 L424.76,417.93 L426.34,418.00 L425.10,418.99 L425.52,420.52 L424.20,419.65 L422.88,420.52 L423.30,418.99 L422.06,418.00 L423.64,417.93Z" fill="#4a4a4a"/>
<rect x="436.10" y="428.80" width="13.2" height="72.70" fill="#66C2A5" fill-opacity="0.34" stroke="#66C2A5" stroke-opacity="0.85" stroke-width="1"/>
<path d="M436.10,428.70H449.30" stroke="#66C2A5" stroke-width="1"/>
<path d="M442.70,421.50V437.00M439.20,421.50H446.20M439.20,437.00H446.20" stroke="#66C2A5" stroke-width="1" fill="none"/>
<circle cx="442.4" cy="420.5" r="1.8" fill="#66C2A5"/>
<circle cx="439" cy="428.7" r="1.8" fill="#66C2A5"/>
<circle cx="442.4" cy="438.1" r="1.8" fill="#66C2A5"/>
<path d="M440.40,412.35 L440.96,413.83 L442.54,413.90 L441.30,414.89 L441.72,416.42 L440.40,415.55 L439.08,416.42 L439.50,414.89 L438.26,413.90 L439.84,413.83ZM445.00,412.35 L445.56,413.83 L447.14,413.90 L445.90,414.89 L446.32,416.42 L445.00,415.55 L443.68,416.42 L444.10,414.89 L442.86,413.90 L444.44,413.83Z" fill="#4a4a4a"/>
<rect x="456.90" y="430.80" width="13.2" height="70.70" fill="#8DA0CB" fill-opacity="0.34" stroke="#8DA0CB" stroke-opacity="0.85" stroke-width="1"/>
<path d="M456.90,428.80H470.10" stroke="#8DA0CB" stroke-width="1"/>
<path d="M463.50,424.70V437.40M460.00,424.70H467.00M460.00,437.40H467.00" stroke="#8DA0CB" stroke-width="1" fill="none"/>
<circle cx="467.7" cy="424.5" r="1.8" fill="#8DA0CB"/>
<circle cx="463.5" cy="428.8" r="1.8" fill="#8DA0CB"/>
<circle cx="463.3" cy="439.5" r="1.8" fill="#8DA0CB"/>
<path d="M461.20,415.55 L461.76,417.03 L463.34,417.10 L462.10,418.09 L462.52,419.62 L461.20,418.75 L459.88,419.62 L460.30,418.09 L459.06,417.10 L460.64,417.03ZM465.80,415.55 L466.36,417.03 L467.94,417.10 L466.70,418.09 L467.12,419.62 L465.80,418.75 L464.48,419.62 L464.90,418.09 L463.66,417.10 L465.24,417.03Z" fill="#4a4a4a"/>
<rect x="477.70" y="374.00" width="13.2" height="127.50" fill="#E78AC3" fill-opacity="0.34" stroke="#E78AC3" stroke-opacity="0.85" stroke-width="1"/>
<path d="M477.70,378.40H490.90" stroke="#E78AC3" stroke-width="1"/>
<path d="M484.30,360.80V387.20M480.80,360.80H487.80M480.80,387.20H487.80" stroke="#E78AC3" stroke-width="1" fill="none"/>
<circle cx="484.1" cy="357.1" r="1.8" fill="#E78AC3"/>
<circle cx="480.6" cy="378.4" r="1.8" fill="#E78AC3"/>
<circle cx="487.5" cy="386.2" r="1.8" fill="#E78AC3"/>
<rect x="507.90" y="418.70" width="13.2" height="82.80" fill="#FC8D62" fill-opacity="0.34" stroke="#FC8D62" stroke-opacity="0.85" stroke-width="1"/>
<path d="M507.90,417.80H521.10" stroke="#FC8D62" stroke-width="1"/>
<path d="M514.50,414.10V425.70M511.00,414.10H518.00M511.00,425.70H518.00" stroke="#FC8D62" stroke-width="1" fill="none"/>
<circle cx="514.4" cy="413.5" r="1.8" fill="#FC8D62"/>
<circle cx="517.9" cy="417.8" r="1.8" fill="#FC8D62"/>
<circle cx="514.4" cy="426.1" r="1.8" fill="#FC8D62"/>
<path d="M509.90,405.75 L510.46,407.23 L512.04,407.30 L510.80,408.29 L511.22,409.82 L509.90,408.95 L508.58,409.82 L509.00,408.29 L507.76,407.30 L509.34,407.23ZM514.50,405.75 L515.06,407.23 L516.64,407.30 L515.40,408.29 L515.82,409.82 L514.50,408.95 L513.18,409.82 L513.60,408.29 L512.36,407.30 L513.94,407.23ZM519.10,405.75 L519.66,407.23 L521.24,407.30 L520.00,408.29 L520.42,409.82 L519.10,408.95 L517.78,409.82 L518.20,408.29 L516.96,407.30 L518.54,407.23Z" fill="#4a4a4a"/>
<rect x="528.70" y="428.70" width="13.2" height="72.80" fill="#66C2A5" fill-opacity="0.34" stroke="#66C2A5" stroke-opacity="0.85" stroke-width="1"/>
<path d="M528.70,431.20H541.90" stroke="#66C2A5" stroke-width="1"/>
<path d="M535.30,422.20V434.00M531.80,422.20H538.80M531.80,434.00H538.80" stroke="#66C2A5" stroke-width="1" fill="none"/>
<circle cx="535.2" cy="420.5" r="1.8" fill="#66C2A5"/>
<circle cx="538.7" cy="431.2" r="1.8" fill="#66C2A5"/>
<circle cx="531.8" cy="434" r="1.8" fill="#66C2A5"/>
<path d="M533.00,414.15 L533.56,415.63 L535.14,415.70 L533.90,416.69 L534.32,418.22 L533.00,417.35 L531.68,418.22 L532.10,416.69 L530.86,415.70 L532.44,415.63ZM537.60,414.15 L538.16,415.63 L539.74,415.70 L538.50,416.69 L538.92,418.22 L537.60,417.35 L536.28,418.22 L536.70,416.69 L535.46,415.70 L537.04,415.63Z" fill="#4a4a4a"/>
<rect x="549.50" y="427.70" width="13.2" height="73.80" fill="#8DA0CB" fill-opacity="0.34" stroke="#8DA0CB" stroke-opacity="0.85" stroke-width="1"/>
<path d="M549.50,424.50H562.70" stroke="#8DA0CB" stroke-width="1"/>
<path d="M556.10,424.50V434.30M552.60,424.50H559.60M552.60,434.30H559.60" stroke="#8DA0CB" stroke-width="1" fill="none"/>
<circle cx="556" cy="421.5" r="1.8" fill="#8DA0CB"/>
<circle cx="552.6" cy="424.5" r="1.8" fill="#8DA0CB"/>
<circle cx="556" cy="436.3" r="1.8" fill="#8DA0CB"/>
<path d="M553.80,412.35 L554.36,413.83 L555.94,413.90 L554.70,414.89 L555.12,416.42 L553.80,415.55 L552.48,416.42 L552.90,414.89 L551.66,413.90 L553.24,413.83ZM558.40,412.35 L558.96,413.83 L560.54,413.90 L559.30,414.89 L559.72,416.42 L558.40,415.55 L557.08,416.42 L557.50,414.89 L556.26,413.90 L557.84,413.83Z" fill="#4a4a4a"/>
<rect x="570.30" y="452.40" width="13.2" height="49.10" fill="#E78AC3" fill-opacity="0.34" stroke="#E78AC3" stroke-opacity="0.85" stroke-width="1"/>
<path d="M570.30,452.40H583.50" stroke="#E78AC3" stroke-width="1"/>
<path d="M576.90,450.60V454.40M573.40,450.60H580.40M573.40,454.40H580.40" stroke="#E78AC3" stroke-width="1" fill="none"/>
<circle cx="576.8" cy="449.2" r="1.8" fill="#E78AC3"/>
<circle cx="581.3" cy="452.4" r="1.8" fill="#E78AC3"/>
<circle cx="576.8" cy="455.5" r="1.8" fill="#E78AC3"/>
<rect x="600.45" y="449.20" width="13.2" height="52.30" fill="#FC8D62" fill-opacity="0.34" stroke="#FC8D62" stroke-opacity="0.85" stroke-width="1"/>
<path d="M600.45,449.50H613.65" stroke="#FC8D62" stroke-width="1"/>
<path d="M607.05,443.00V456.20M603.55,443.00H610.55M603.55,456.20H610.55" stroke="#FC8D62" stroke-width="1" fill="none"/>
<circle cx="606.6" cy="441.3" r="1.8" fill="#FC8D62"/>
<circle cx="610.4" cy="449.5" r="1.8" fill="#FC8D62"/>
<circle cx="606.6" cy="456.6" r="1.8" fill="#FC8D62"/>
<path d="M607.05,431.45 L607.61,432.93 L609.19,433.00 L607.95,433.99 L608.37,435.52 L607.05,434.65 L605.73,435.52 L606.15,433.99 L604.91,433.00 L606.49,432.93Z" fill="#4a4a4a"/>
<rect x="621.25" y="452.40" width="13.2" height="49.10" fill="#66C2A5" fill-opacity="0.34" stroke="#66C2A5" stroke-opacity="0.85" stroke-width="1"/>
<path d="M621.25,452.40H634.45" stroke="#66C2A5" stroke-width="1"/>
<path d="M627.85,447.40V458.90M624.35,447.40H631.35M624.35,458.90H631.35" stroke="#66C2A5" stroke-width="1" fill="none"/>
<circle cx="627.4" cy="447.2" r="1.8" fill="#66C2A5"/>
<circle cx="630.9" cy="452.4" r="1.8" fill="#66C2A5"/>
<circle cx="627.4" cy="459.4" r="1.8" fill="#66C2A5"/>
<path d="M627.85,437.55 L628.41,439.03 L629.99,439.10 L628.75,440.09 L629.17,441.62 L627.85,440.75 L626.53,441.62 L626.95,440.09 L625.71,439.10 L627.29,439.03Z" fill="#4a4a4a"/>
<rect x="642.05" y="451.70" width="13.2" height="49.80" fill="#8DA0CB" fill-opacity="0.34" stroke="#8DA0CB" stroke-opacity="0.85" stroke-width="1"/>
<path d="M642.05,452.40H655.25" stroke="#8DA0CB" stroke-width="1"/>
<path d="M648.65,447.20V456.60M645.15,447.20H652.15M645.15,456.60H652.15" stroke="#8DA0CB" stroke-width="1" fill="none"/>
<circle cx="648.5" cy="445.5" r="1.8" fill="#8DA0CB"/>
<circle cx="645.2" cy="452.4" r="1.8" fill="#8DA0CB"/>
<circle cx="648.5" cy="456.6" r="1.8" fill="#8DA0CB"/>
<path d="M648.65,436.35 L649.21,437.83 L650.79,437.90 L649.55,438.89 L649.97,440.42 L648.65,439.55 L647.33,440.42 L647.75,438.89 L646.51,437.90 L648.09,437.83Z" fill="#4a4a4a"/>
<rect x="662.85" y="471.40" width="13.2" height="30.10" fill="#E78AC3" fill-opacity="0.34" stroke="#E78AC3" stroke-opacity="0.85" stroke-width="1"/>
<path d="M662.85,471.40H676.05" stroke="#E78AC3" stroke-width="1"/>
<path d="M669.45,465.90V477.00M665.95,465.90H672.95M665.95,477.00H672.95" stroke="#E78AC3" stroke-width="1" fill="none"/>
<circle cx="669.1" cy="465.2" r="1.8" fill="#E78AC3"/>
<circle cx="672.8" cy="471.4" r="1.8" fill="#E78AC3"/>
<circle cx="669.1" cy="477.7" r="1.8" fill="#E78AC3"/>
<path d="M406.4,302.45V501.5M402.09999999999997,501.5H683.9" stroke="#000" stroke-width="1.7" fill="none"/>
<path d="M401.79999999999995,501.50H406.4M404.09999999999997,481.60H406.4M401.79999999999995,461.69H406.4M404.09999999999997,441.79H406.4M401.79999999999995,421.88H406.4M404.09999999999997,401.98H406.4M401.79999999999995,382.07H406.4M404.09999999999997,362.17H406.4M401.79999999999995,342.26H406.4M404.09999999999997,322.36H406.4M401.79999999999995,302.45H406.4" stroke="#000" stroke-width="1.3" fill="none"/>
<text x="399.4" y="504.90" font-size="10.3" text-anchor="end" font-weight="bold" font-style="normal" fill="#000" >0.0</text>
<text x="399.4" y="465.09" font-size="10.3" text-anchor="end" font-weight="bold" font-style="normal" fill="#000" >0.3</text>
<text x="399.4" y="425.28" font-size="10.3" text-anchor="end" font-weight="bold" font-style="normal" fill="#000" >0.6</text>
<text x="399.4" y="385.47" font-size="10.3" text-anchor="end" font-weight="bold" font-style="normal" fill="#000" >0.9</text>
<text x="399.4" y="345.66" font-size="10.3" text-anchor="end" font-weight="bold" font-style="normal" fill="#000" >1.2</text>
<text x="399.4" y="305.85" font-size="10.3" text-anchor="end" font-weight="bold" font-style="normal" fill="#000" >1.5</text>
<path d="M406.4,501.5V534.5H683.9V501.5M406.4,518.2H683.9M499.40,501.5V534.5M591.97,501.5V534.5M432.30,501.5V518.2M453.10,501.5V518.2M473.90,501.5V518.2M524.90,501.5V518.2M545.70,501.5V518.2M566.50,501.5V518.2M617.45,501.5V518.2M638.25,501.5V518.2M659.05,501.5V518.2" stroke="#000" stroke-width="1.4" fill="none"/>
<text x="419.35" y="513.80" font-size="11" text-anchor="middle" font-weight="bold" font-style="normal" fill="#000" >1</text>
<text x="442.70" y="513.80" font-size="11" text-anchor="middle" font-weight="bold" font-style="normal" fill="#000" >4</text>
<text x="463.50" y="513.80" font-size="11" text-anchor="middle" font-weight="bold" font-style="normal" fill="#000" >7</text>
<text x="486.65" y="513.80" font-size="11" text-anchor="middle" font-weight="bold" font-style="normal" fill="#000" >WT</text>
<text x="453.05" y="530.80" font-size="10" text-anchor="middle" font-weight="bold" font-style="normal" fill="#000" letter-spacing="0.3">AA</text>
<text x="512.15" y="513.80" font-size="11" text-anchor="middle" font-weight="bold" font-style="normal" fill="#000" >1</text>
<text x="535.30" y="513.80" font-size="11" text-anchor="middle" font-weight="bold" font-style="normal" fill="#000" >4</text>
<text x="556.10" y="513.80" font-size="11" text-anchor="middle" font-weight="bold" font-style="normal" fill="#000" >7</text>
<text x="579.24" y="513.80" font-size="11" text-anchor="middle" font-weight="bold" font-style="normal" fill="#000" >WT</text>
<text x="545.84" y="530.80" font-size="10" text-anchor="middle" font-weight="bold" font-style="normal" fill="#000" letter-spacing="0.3">DHAA</text>
<text x="604.71" y="513.80" font-size="11" text-anchor="middle" font-weight="bold" font-style="normal" fill="#000" >1</text>
<text x="627.85" y="513.80" font-size="11" text-anchor="middle" font-weight="bold" font-style="normal" fill="#000" >4</text>
<text x="648.65" y="513.80" font-size="11" text-anchor="middle" font-weight="bold" font-style="normal" fill="#000" >7</text>
<text x="671.47" y="513.80" font-size="11" text-anchor="middle" font-weight="bold" font-style="normal" fill="#000" >WT</text>
<text x="638.09" y="530.80" font-size="10" text-anchor="middle" font-weight="bold" font-style="normal" fill="#000" letter-spacing="0.3">ART</text>
<text transform="translate(366.9,401.8) rotate(-90)" font-size="12.6" text-anchor="middle" font-weight="bold">Content of AA, DHAA and ART</text>
<text transform="translate(381.5,402.0) rotate(-90)" font-size="12.6" text-anchor="middle" font-weight="bold">mg/g, DW</text>
<text x="422.7" y="316.0" font-size="15.3" font-weight="bold"><tspan font-style="italic">Aa</tspan>DHAADH (P26L)-overexpression</text>
<text x="354.6" y="307.8" font-size="20.5" text-anchor="start" font-weight="bold" font-style="normal" fill="#000" >E</text>
<rect x="416.55" y="661.70" width="13.8" height="161.90" fill="#FC8D62" fill-opacity="0.34" stroke="#FC8D62" stroke-opacity="0.85" stroke-width="1"/>
<path d="M416.55,661.30H430.35" stroke="#FC8D62" stroke-width="1"/>
<path d="M423.45,658.30V666.90M419.95,658.30H426.95M419.95,666.90H426.95" stroke="#FC8D62" stroke-width="1" fill="none"/>
<circle cx="427.1" cy="657.8" r="1.8" fill="#FC8D62"/>
<circle cx="419.7" cy="661.3" r="1.8" fill="#FC8D62"/>
<circle cx="423.7" cy="667.4" r="1.8" fill="#FC8D62"/>
<path d="M423.45,650.35 L424.01,651.83 L425.59,651.90 L424.35,652.89 L424.77,654.42 L423.45,653.55 L422.13,654.42 L422.55,652.89 L421.31,651.90 L422.89,651.83Z" fill="#4a4a4a"/>
<rect x="437.35" y="658.30" width="13.8" height="165.30" fill="#66C2A5" fill-opacity="0.34" stroke="#66C2A5" stroke-opacity="0.85" stroke-width="1"/>
<path d="M437.35,658.30H451.15" stroke="#66C2A5" stroke-width="1"/>
<path d="M444.25,651.20V666.20M440.75,651.20H447.75M440.75,666.20H447.75" stroke="#66C2A5" stroke-width="1" fill="none"/>
<circle cx="444.6" cy="649.9" r="1.8" fill="#66C2A5"/>
<circle cx="440.7" cy="658.3" r="1.8" fill="#66C2A5"/>
<circle cx="444.6" cy="666.6" r="1.8" fill="#66C2A5"/>
<path d="M444.25,642.45 L444.81,643.93 L446.39,644.00 L445.15,644.99 L445.57,646.52 L444.25,645.65 L442.93,646.52 L443.35,644.99 L442.11,644.00 L443.69,643.93Z" fill="#4a4a4a"/>
<rect x="458.15" y="657.00" width="13.8" height="166.60" fill="#8DA0CB" fill-opacity="0.34" stroke="#8DA0CB" stroke-opacity="0.85" stroke-width="1"/>
<path d="M458.15,655.50H471.95" stroke="#8DA0CB" stroke-width="1"/>
<path d="M465.05,651.30V662.80M461.55,651.30H468.55M461.55,662.80H468.55" stroke="#8DA0CB" stroke-width="1" fill="none"/>
<circle cx="465" cy="651.3" r="1.8" fill="#8DA0CB"/>
<circle cx="461.4" cy="655.5" r="1.8" fill="#8DA0CB"/>
<circle cx="465" cy="663.2" r="1.8" fill="#8DA0CB"/>
<path d="M465.05,643.25 L465.61,644.73 L467.19,644.80 L465.95,645.79 L466.37,647.32 L465.05,646.45 L463.73,647.32 L464.15,645.79 L462.91,644.80 L464.49,644.73Z" fill="#4a4a4a"/>
<rect x="478.95" y="694.30" width="13.8" height="129.30" fill="#E78AC3" fill-opacity="0.34" stroke="#E78AC3" stroke-opacity="0.85" stroke-width="1"/>
<path d="M478.95,698.40H492.75" stroke="#E78AC3" stroke-width="1"/>
<path d="M485.85,680.80V707.30M482.35,680.80H489.35M482.35,707.30H489.35" stroke="#E78AC3" stroke-width="1" fill="none"/>
<circle cx="485.7" cy="676.6" r="1.8" fill="#E78AC3"/>
<circle cx="482.3" cy="698.4" r="1.8" fill="#E78AC3"/>
<circle cx="489" cy="706.5" r="1.8" fill="#E78AC3"/>
<rect x="508.80" y="808.00" width="13.8" height="15.60" fill="#FC8D62" fill-opacity="0.34" stroke="#FC8D62" stroke-opacity="0.85" stroke-width="1"/>
<path d="M508.80,808.70H522.60" stroke="#FC8D62" stroke-width="1"/>
<path d="M515.70,804.80V812.90M512.20,804.80H519.20M512.20,812.90H519.20" stroke="#FC8D62" stroke-width="1" fill="none"/>
<circle cx="515.7" cy="803.2" r="1.8" fill="#FC8D62"/>
<circle cx="515.7" cy="808.7" r="1.8" fill="#FC8D62"/>
<circle cx="515.7" cy="813.6" r="1.8" fill="#FC8D62"/>
<path d="M511.10,795.35 L511.66,796.83 L513.24,796.90 L512.00,797.89 L512.42,799.42 L511.10,798.55 L509.78,799.42 L510.20,797.89 L508.96,796.90 L510.54,796.83ZM515.70,795.35 L516.26,796.83 L517.84,796.90 L516.60,797.89 L517.02,799.42 L515.70,798.55 L514.38,799.42 L514.80,797.89 L513.56,796.90 L515.14,796.83ZM520.30,795.35 L520.86,796.83 L522.44,796.90 L521.20,797.89 L521.62,799.42 L520.30,798.55 L518.98,799.42 L519.40,797.89 L518.16,796.90 L519.74,796.83Z" fill="#4a4a4a"/>
<rect x="529.60" y="813.60" width="13.8" height="10.00" fill="#66C2A5" fill-opacity="0.34" stroke="#66C2A5" stroke-opacity="0.85" stroke-width="1"/>
<path d="M529.60,812.10H543.40" stroke="#66C2A5" stroke-width="1"/>
<path d="M536.50,810.60V817.50M533.00,810.60H540.00M533.00,817.50H540.00" stroke="#66C2A5" stroke-width="1" fill="none"/>
<circle cx="531.8" cy="810.3" r="1.8" fill="#66C2A5"/>
<circle cx="540.7" cy="812.1" r="1.8" fill="#66C2A5"/>
<circle cx="536.1" cy="817.2" r="1.8" fill="#66C2A5"/>
<path d="M531.90,801.45 L532.46,802.93 L534.04,803.00 L532.80,803.99 L533.22,805.52 L531.90,804.65 L530.58,805.52 L531.00,803.99 L529.76,803.00 L531.34,802.93ZM536.50,801.45 L537.06,802.93 L538.64,803.00 L537.40,803.99 L537.82,805.52 L536.50,804.65 L535.18,805.52 L535.60,803.99 L534.36,803.00 L535.94,802.93ZM541.10,801.45 L541.66,802.93 L543.24,803.00 L542.00,803.99 L542.42,805.52 L541.10,804.65 L539.78,805.52 L540.20,803.99 L538.96,803.00 L540.54,802.93Z" fill="#4a4a4a"/>
<rect x="550.40" y="811.70" width="13.8" height="11.90" fill="#8DA0CB" fill-opacity="0.34" stroke="#8DA0CB" stroke-opacity="0.85" stroke-width="1"/>
<path d="M550.40,811.00H564.20" stroke="#8DA0CB" stroke-width="1"/>
<path d="M557.30,807.10V814.40M553.80,807.10H560.80M553.80,814.40H560.80" stroke="#8DA0CB" stroke-width="1" fill="none"/>
<circle cx="557.1" cy="806" r="1.8" fill="#8DA0CB"/>
<circle cx="553" cy="811" r="1.8" fill="#8DA0CB"/>
<circle cx="561" cy="813" r="1.8" fill="#8DA0CB"/>
<path d="M552.70,799.15 L553.26,800.63 L554.84,800.70 L553.60,801.69 L554.02,803.22 L552.70,802.35 L551.38,803.22 L551.80,801.69 L550.56,800.70 L552.14,800.63ZM557.30,799.15 L557.86,800.63 L559.44,800.70 L558.20,801.69 L558.62,803.22 L557.30,802.35 L555.98,803.22 L556.40,801.69 L555.16,800.70 L556.74,800.63ZM561.90,799.15 L562.46,800.63 L564.04,800.70 L562.80,801.69 L563.22,803.22 L561.90,802.35 L560.58,803.22 L561.00,801.69 L559.76,800.70 L561.34,800.63Z" fill="#4a4a4a"/>
<rect x="571.20" y="774.30" width="13.8" height="49.30" fill="#E78AC3" fill-opacity="0.34" stroke="#E78AC3" stroke-opacity="0.85" stroke-width="1"/>
<path d="M571.20,774.10H585.00" stroke="#E78AC3" stroke-width="1"/>
<path d="M578.10,771.20V776.10M574.60,771.20H581.60M574.60,776.10H581.60" stroke="#E78AC3" stroke-width="1" fill="none"/>
<circle cx="577.8" cy="771" r="1.8" fill="#E78AC3"/>
<circle cx="573.2" cy="774.1" r="1.8" fill="#E78AC3"/>
<circle cx="577.8" cy="776.4" r="1.8" fill="#E78AC3"/>
<rect x="601.00" y="811.60" width="13.8" height="12.00" fill="#FC8D62" fill-opacity="0.34" stroke="#FC8D62" stroke-opacity="0.85" stroke-width="1"/>
<path d="M601.00,811.60H614.80" stroke="#FC8D62" stroke-width="1"/>
<path d="M607.90,810.30V815.50M604.40,810.30H611.40M604.40,815.50H611.40" stroke="#FC8D62" stroke-width="1" fill="none"/>
<circle cx="603.2" cy="809.9" r="1.8" fill="#FC8D62"/>
<circle cx="608" cy="811.6" r="1.8" fill="#FC8D62"/>
<circle cx="608" cy="815.5" r="1.8" fill="#FC8D62"/>
<path d="M605.60,800.45 L606.16,801.93 L607.74,802.00 L606.50,802.99 L606.92,804.52 L605.60,803.65 L604.28,804.52 L604.70,802.99 L603.46,802.00 L605.04,801.93ZM610.20,800.45 L610.76,801.93 L612.34,802.00 L611.10,802.99 L611.52,804.52 L610.20,803.65 L608.88,804.52 L609.30,802.99 L608.06,802.00 L609.64,801.93Z" fill="#4a4a4a"/>
<rect x="621.80" y="813.40" width="13.8" height="10.20" fill="#66C2A5" fill-opacity="0.34" stroke="#66C2A5" stroke-opacity="0.85" stroke-width="1"/>
<path d="M621.80,813.40H635.60" stroke="#66C2A5" stroke-width="1"/>
<path d="M628.70,809.70V818.90M625.20,809.70H632.20M625.20,818.90H632.20" stroke="#66C2A5" stroke-width="1" fill="none"/>
<circle cx="628.7" cy="809.5" r="1.8" fill="#66C2A5"/>
<circle cx="624" cy="813.4" r="1.8" fill="#66C2A5"/>
<circle cx="628.7" cy="818.9" r="1.8" fill="#66C2A5"/>
<path d="M626.40,803.25 L626.96,804.73 L628.54,804.80 L627.30,805.79 L627.72,807.32 L626.40,806.45 L625.08,807.32 L625.50,805.79 L624.26,804.80 L625.84,804.73ZM631.00,803.25 L631.56,804.73 L633.14,804.80 L631.90,805.79 L632.32,807.32 L631.00,806.45 L629.68,807.32 L630.10,805.79 L628.86,804.80 L630.44,804.73Z" fill="#4a4a4a"/>
<rect x="642.60" y="812.40" width="13.8" height="11.20" fill="#8DA0CB" fill-opacity="0.34" stroke="#8DA0CB" stroke-opacity="0.85" stroke-width="1"/>
<path d="M642.60,812.40H656.40" stroke="#8DA0CB" stroke-width="1"/>
<path d="M649.50,809.20V814.40M646.00,809.20H653.00M646.00,814.40H653.00" stroke="#8DA0CB" stroke-width="1" fill="none"/>
<circle cx="649.3" cy="808.5" r="1.8" fill="#8DA0CB"/>
<circle cx="645" cy="812.4" r="1.8" fill="#8DA0CB"/>
<circle cx="653" cy="813.5" r="1.8" fill="#8DA0CB"/>
<path d="M647.20,801.85 L647.76,803.33 L649.34,803.40 L648.10,804.39 L648.52,805.92 L647.20,805.05 L645.88,805.92 L646.30,804.39 L645.06,803.40 L646.64,803.33ZM651.80,801.85 L652.36,803.33 L653.94,803.40 L652.70,804.39 L653.12,805.92 L651.80,805.05 L650.48,805.92 L650.90,804.39 L649.66,803.40 L651.24,803.33Z" fill="#4a4a4a"/>
<rect x="663.40" y="793.30" width="13.8" height="30.30" fill="#E78AC3" fill-opacity="0.34" stroke="#E78AC3" stroke-opacity="0.85" stroke-width="1"/>
<path d="M663.40,792.90H677.20" stroke="#E78AC3" stroke-width="1"/>
<path d="M670.30,788.40V799.50M666.80,788.40H673.80M666.80,799.50H673.80" stroke="#E78AC3" stroke-width="1" fill="none"/>
<circle cx="669.7" cy="787" r="1.8" fill="#E78AC3"/>
<circle cx="673.2" cy="792.9" r="1.8" fill="#E78AC3"/>
<circle cx="669.7" cy="799.8" r="1.8" fill="#E78AC3"/>
<path d="M408.7,622.00V823.6M404.4,823.6H684.2" stroke="#000" stroke-width="1.7" fill="none"/>
<path d="M404.09999999999997,823.60H408.7M406.4,803.44H408.7M404.09999999999997,783.28H408.7M406.4,763.12H408.7M404.09999999999997,742.96H408.7M406.4,722.80H408.7M404.09999999999997,702.64H408.7M406.4,682.48H408.7M404.09999999999997,662.32H408.7M406.4,642.16H408.7M404.09999999999997,622.00H408.7" stroke="#000" stroke-width="1.3" fill="none"/>
<text x="401.7" y="827.00" font-size="10.3" text-anchor="end" font-weight="bold" font-style="normal" fill="#000" >0.0</text>
<text x="401.7" y="786.68" font-size="10.3" text-anchor="end" font-weight="bold" font-style="normal" fill="#000" >0.3</text>
<text x="401.7" y="746.36" font-size="10.3" text-anchor="end" font-weight="bold" font-style="normal" fill="#000" >0.6</text>
<text x="401.7" y="706.04" font-size="10.3" text-anchor="end" font-weight="bold" font-style="normal" fill="#000" >0.9</text>
<text x="401.7" y="665.72" font-size="10.3" text-anchor="end" font-weight="bold" font-style="normal" fill="#000" >1.2</text>
<text x="401.7" y="625.40" font-size="10.3" text-anchor="end" font-weight="bold" font-style="normal" fill="#000" >1.5</text>
<path d="M408.7,823.6V854.4H684.2V823.6M408.7,839.0H684.2M500.77,823.6V854.4M593.00,823.6V854.4M433.85,823.6V839.0M454.65,823.6V839.0M475.45,823.6V839.0M526.10,823.6V839.0M546.90,823.6V839.0M567.70,823.6V839.0M618.30,823.6V839.0M639.10,823.6V839.0M659.90,823.6V839.0" stroke="#000" stroke-width="1.4" fill="none"/>
<text x="421.27" y="835.50" font-size="11" text-anchor="middle" font-weight="bold" font-style="normal" fill="#000" >3</text>
<text x="444.25" y="835.50" font-size="11" text-anchor="middle" font-weight="bold" font-style="normal" fill="#000" >5</text>
<text x="465.05" y="835.50" font-size="11" text-anchor="middle" font-weight="bold" font-style="normal" fill="#000" >6</text>
<text x="488.11" y="835.50" font-size="11" text-anchor="middle" font-weight="bold" font-style="normal" fill="#000" >WT</text>
<text x="454.89" y="850.70" font-size="10" text-anchor="middle" font-weight="bold" font-style="normal" fill="#000" letter-spacing="0.3">AA</text>
<text x="513.44" y="835.50" font-size="11" text-anchor="middle" font-weight="bold" font-style="normal" fill="#000" >3</text>
<text x="536.50" y="835.50" font-size="11" text-anchor="middle" font-weight="bold" font-style="normal" fill="#000" >5</text>
<text x="557.30" y="835.50" font-size="11" text-anchor="middle" font-weight="bold" font-style="normal" fill="#000" >6</text>
<text x="580.35" y="835.50" font-size="11" text-anchor="middle" font-weight="bold" font-style="normal" fill="#000" >WT</text>
<text x="547.04" y="850.70" font-size="10" text-anchor="middle" font-weight="bold" font-style="normal" fill="#000" letter-spacing="0.3">DHAA</text>
<text x="605.65" y="835.50" font-size="11" text-anchor="middle" font-weight="bold" font-style="normal" fill="#000" >3</text>
<text x="628.70" y="835.50" font-size="11" text-anchor="middle" font-weight="bold" font-style="normal" fill="#000" >5</text>
<text x="649.50" y="835.50" font-size="11" text-anchor="middle" font-weight="bold" font-style="normal" fill="#000" >6</text>
<text x="672.05" y="835.50" font-size="11" text-anchor="middle" font-weight="bold" font-style="normal" fill="#000" >WT</text>
<text x="638.75" y="850.70" font-size="10" text-anchor="middle" font-weight="bold" font-style="normal" fill="#000" letter-spacing="0.3">ART</text>
<text transform="translate(367.6,726.3) rotate(-90)" font-size="12.1" text-anchor="middle" font-weight="bold">Content of AA, DHAA and ART</text>
<text transform="translate(383.3,722.3) rotate(-90)" font-size="12.1" text-anchor="middle" font-weight="bold">mg/g, DW</text>
<text x="478.2" y="634.4" font-size="15.3" font-weight="bold"><tspan font-style="italic">Aa</tspan>DHAADH-RNAi</text>
<text x="356.3" y="621.9" font-size="20.5" text-anchor="start" font-weight="bold" font-style="normal" fill="#000" >F</text>
</svg>
</body></html>
